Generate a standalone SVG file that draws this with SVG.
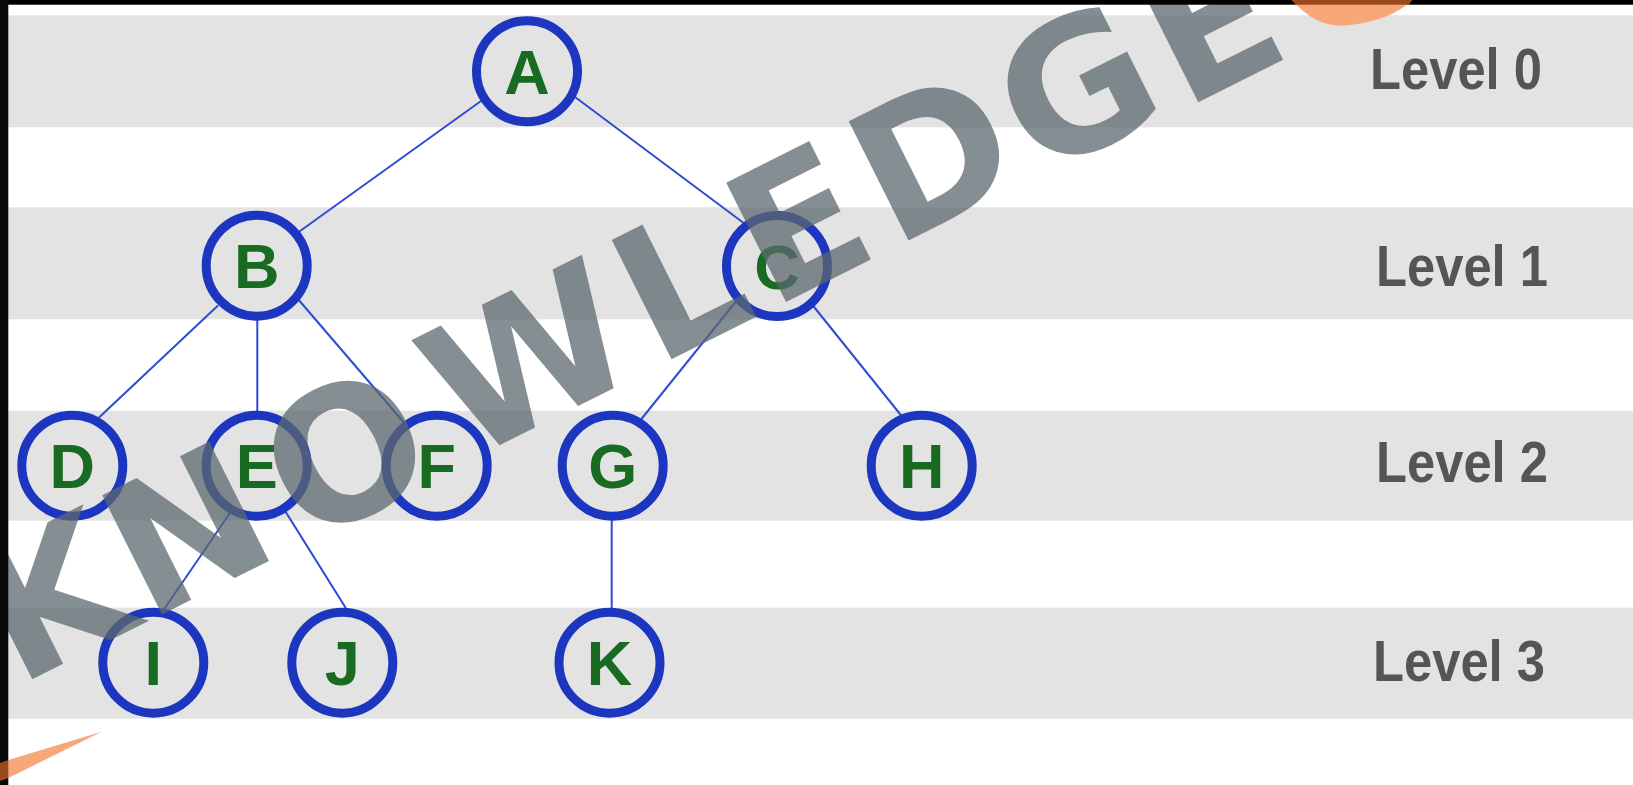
<svg xmlns="http://www.w3.org/2000/svg" width="1633" height="785" viewBox="0 0 1633 785">
  <style>
    .band { fill: #e3e3e3; }
    .node circle { fill: #e3e3e3; stroke: #1c36c0; stroke-width: 9; }
    .node text { font-family: "Liberation Sans", Arial, sans-serif; font-weight: bold; font-size: 63px; fill: #1a6b22; text-anchor: middle; }
    .level { font-family: "Liberation Sans", Arial, sans-serif; font-weight: bold; font-size: 57px; fill: #555555; }
    #connectors line { stroke: #2f4bd6; stroke-width: 2; }
    .wm { font-family: "DejaVu Sans", "Liberation Sans", sans-serif; font-weight: bold; font-size: 183px; fill: #5c686e; fill-opacity: 0.75; }
  </style>
  <rect width="1633" height="785" fill="#ffffff"/>
  <g id="bands">
    <rect class="band" x="8" y="15.3" width="1625" height="112"/>
    <rect class="band" x="8" y="207.3" width="1625" height="112"/>
    <rect class="band" x="8" y="410.7" width="1625" height="110"/>
    <rect class="band" x="8" y="607.7" width="1625" height="111"/>
  </g>
  <g id="connectors">
    <line x1="481" y1="101" x2="298" y2="232.5"/>
    <line x1="573" y1="95.5" x2="745" y2="224"/>
    <line x1="218" y1="305.5" x2="98.5" y2="418"/>
    <line x1="257.3" y1="316" x2="257.3" y2="415"/>
    <line x1="297.5" y1="298.5" x2="406" y2="425"/>
    <line x1="739.5" y1="297" x2="641" y2="419.5"/>
    <line x1="812.5" y1="305" x2="902" y2="416.5"/>
    <line x1="232" y1="510" x2="161.5" y2="613"/>
    <line x1="284.5" y1="510" x2="347" y2="610"/>
    <line x1="611.7" y1="516" x2="611.7" y2="612"/>
  </g>
  <g id="node-A" class="node"><circle cx="527" cy="71.3" r="50.5"/><text x="527" y="94">A</text></g>
  <g id="node-B" class="node"><circle cx="256.7" cy="265.7" r="50.5"/><text x="256.7" y="288.2">B</text></g>
  <g id="node-C" class="node"><circle cx="777" cy="266" r="50.5"/><text x="777" y="288.5">C</text></g>
  <g id="node-D" class="node"><circle cx="72.3" cy="465.7" r="50.5"/><text x="72.3" y="488.2">D</text></g>
  <g id="node-E" class="node"><circle cx="256.7" cy="465.7" r="50.5"/><text x="256.7" y="488.2">E</text></g>
  <g id="node-F" class="node"><circle cx="436.7" cy="465.7" r="50.5"/><text x="436.7" y="488.2">F</text></g>
  <g id="node-G" class="node"><circle cx="612.7" cy="465.7" r="50.5"/><text x="612.7" y="488.2">G</text></g>
  <g id="node-H" class="node"><circle cx="921.7" cy="465.7" r="50.5"/><text x="921.7" y="488.2">H</text></g>
  <g id="node-I" class="node"><circle cx="153.3" cy="662.7" r="50.5"/><text x="153.3" y="685.2">I</text></g>
  <g id="node-J" class="node"><circle cx="342.3" cy="662.7" r="50.5"/><text x="342.3" y="685.2">J</text></g>
  <g id="node-K" class="node"><circle cx="609.5" cy="662.7" r="50.5"/><text x="609.5" y="685.2">K</text></g>
  <g id="levels">
    <text class="level" x="1370" y="88.5" textLength="172" lengthAdjust="spacingAndGlyphs">Level 0</text>
    <text class="level" x="1376" y="285.5" textLength="172" lengthAdjust="spacingAndGlyphs">Level 1</text>
    <text class="level" x="1376" y="482" textLength="172" lengthAdjust="spacingAndGlyphs">Level 2</text>
    <text class="level" x="1373" y="680.5" textLength="172" lengthAdjust="spacingAndGlyphs">Level 3</text>
  </g>
  <g id="watermark" transform="translate(670 360) rotate(-26.6)">
    <text class="wm" x="-730 -585 -410 -228 -15 113 250 410 571" y="0 0 3 0 0 0 0 3 6">KNOWLEDGE</text>
  </g>
  <g id="frame">
    <rect x="0" y="0" width="1633" height="4.7" fill="#000000"/>
    <rect x="0" y="0" width="8.3" height="785" fill="#0a0a0a"/>
  </g>
  <g id="accents">
    <path d="M1292,0 Q1318,30 1350,25 Q1392,20 1412,0 Z" fill="#f8a878"/>
    <path d="M1292,0 L1296,4.7 L1409,4.7 L1412,0 Z" fill="#9a4a1c"/>
    <path d="M8.3,760 L101.7,731.7 L8.3,778 Z" fill="#f8a878"/>
    <path d="M0,763 L8.3,760 L8.3,778 L0,781 Z" fill="#9a4a1c"/>
  </g>
</svg>
